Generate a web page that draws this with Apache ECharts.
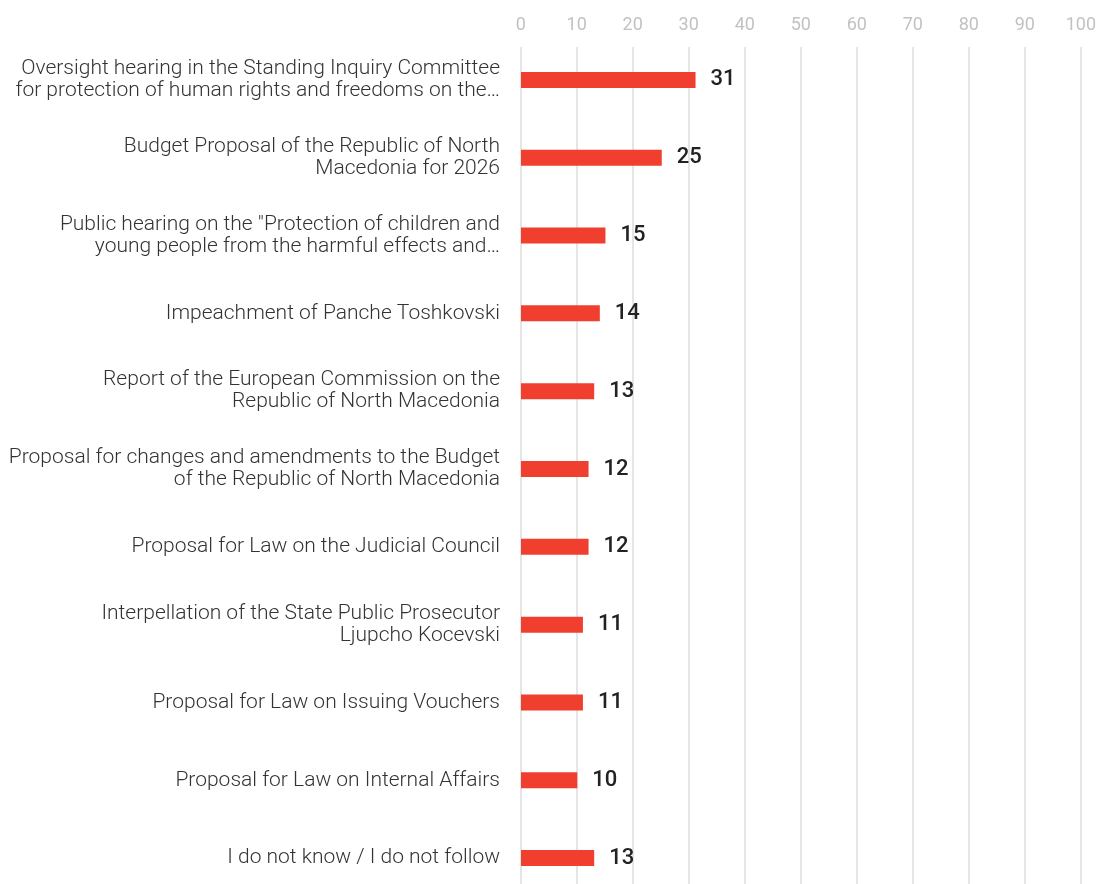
<!DOCTYPE html>
<html><head><meta charset="utf-8">
<script src="https://cdn.jsdelivr.net/npm/echarts@6/dist/echarts.min.js"></script>
<style>html,body{margin:0;padding:0;background:#fff;overflow:hidden}#w{width:1099px;height:884px;overflow:hidden}#c{width:1099px;height:900px}</style>
</head><body><div id="w"><div id="c"></div></div>
<script>
const categories = [
  "Oversight hearing in the Standing Inquiry Committee\nfor protection of human rights and freedoms on the…",
  "Budget Proposal of the Republic of North\nMacedonia for 2026",
  "Public hearing on the \"Protection of children and\nyoung people from the harmful effects and…",
  "Impeachment of Panche Toshkovski",
  "Report of the European Commission on the\nRepublic of North Macedonia",
  "Proposal for changes and amendments to the Budget\nof the Republic of North Macedonia",
  "Proposal for Law on the Judicial Council",
  "Interpellation of the State Public Prosecutor\nLjupcho Kocevski",
  "Proposal for Law on Issuing Vouchers",
  "Proposal for Law on Internal Affairs",
  "I do not know / I do not follow"
];
const values = [31, 25, 15, 14, 13, 12, 12, 11, 11, 10, 13];
const axisMin = 0, axisMax = 100, axisStep = 10;

const chart = echarts.init(document.getElementById('c'), null, {renderer: 'canvas'});
chart.setOption({
  animation: false,
  grid: [
    {left: 521, right: 15, top: 41, height: 856},
    {left: 520.7, right: 15.3, top: 47, height: 849}
  ],
  xAxis: [
    {
      gridIndex: 0, type: 'value', position: 'top', min: axisMin, max: axisMax, interval: axisStep,
      axisLine: {show: false}, axisTick: {show: false}, axisLabel: {show: false}, splitLine: {show: false}
    },
    {
      gridIndex: 1, type: 'value', position: 'top', min: axisMin, max: axisMax, interval: axisStep,
      axisLine: {show: false}, axisTick: {show: false},
      axisLabel: {color: '#c2c2c2', fontFamily: 'Roboto', fontSize: 18, margin: 13},
      splitLine: {show: true, lineStyle: {color: '#dddddd', width: 1.5}}
    }
  ],
  yAxis: [
    {
      gridIndex: 0, type: 'category', data: categories, inverse: true,
      axisLine: {show: false}, axisTick: {show: false},
      axisLabel: {color: '#333333', fontFamily: 'Roboto', fontWeight: 300, fontSize: 21, lineHeight: 22, margin: 21, align: 'right', padding: [3, 0, 0, 0]}
    },
    {
      gridIndex: 1, type: 'category', data: categories, inverse: true, show: false
    }
  ],
  series: [{
    type: 'bar', data: values, barWidth: 16, xAxisIndex: 0, yAxisIndex: 0,
    itemStyle: {color: '#f03e2f'},
    label: {show: true, position: 'right', distance: 15, color: '#222222', fontFamily: 'Roboto', fontWeight: 500, fontSize: 22}
  }]
});
</script></body></html>
